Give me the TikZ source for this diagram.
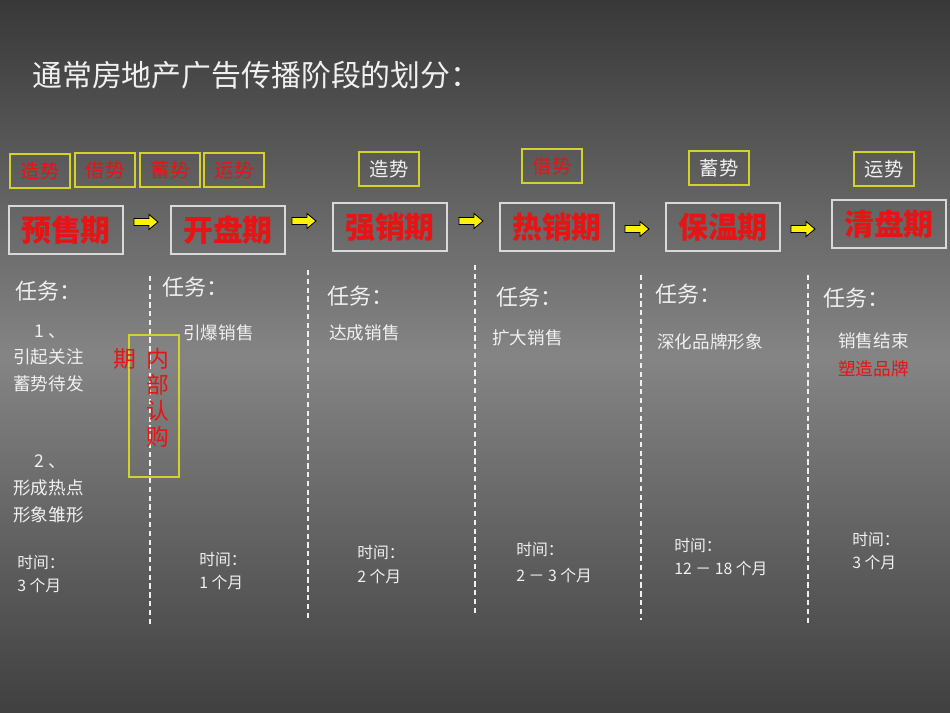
\documentclass[tikz,border=0pt]{standalone}
\usepackage{fontspec}
\setmainfont{Noto Sans CJK SC}
\definecolor{wt}{RGB}{240,240,240}
\definecolor{rd}{RGB}{230,20,20}
\definecolor{yb}{RGB}{210,210,40}
\begin{document}
\begin{tikzpicture}[x=0.02cm,y=-0.02cm,
 shi/.style={draw=yb,line width=0.7pt,minimum width=60*0.02cm,minimum height=34*0.02cm,inner sep=0pt,font=\fontsize{11}{12}\selectfont},
 big/.style={draw=wt!80!gray,line width=0.9pt,minimum width=114*0.02cm,minimum height=48*0.02cm,inner sep=0pt,text=rd,font=\fontsize{17}{18}\selectfont\bfseries},
 arr/.style={fill=yellow,draw=black,line width=0.5pt},
 dl/.style={draw=wt,dash pattern=on 3pt off 2pt,line width=0.7pt},
 task/.style={anchor=west,text=wt,font=\fontsize{12.5}{13}\selectfont,inner sep=0pt},
 body/.style={anchor=west,text=wt,font=\fontsize{10}{11}\selectfont,inner sep=0pt},
 vt/.style={text=rd,font=\fontsize{13}{14}\selectfont,inner sep=0pt},
 tm/.style={anchor=west,text=wt,font=\fontsize{9}{10}\selectfont,inner sep=0pt}]
\shade[top color=black!78,bottom color=black!75,middle color=black!48] (0,0) rectangle (950,713);
\useasboundingbox (0,0) rectangle (950,713);
\node[anchor=west,text=wt,font=\fontsize{17}{18}\selectfont,inner sep=0pt] (title) at (32,75) {通常房地产广告传播阶段的划分：};
% small boxes
\node[shi,text=rd] (s1) at (40,171) {造势};
\node[shi,text=rd] (s2) at (105,170) {借势};
\node[shi,text=rd] (s3) at (170,170) {蓄势};
\node[shi,text=rd] (s4) at (234,170) {运势};
\node[shi,text=wt] (s5) at (389,169) {造势};
\node[shi,text=rd] (s6) at (552,166) {借势};
\node[shi,text=wt] (s7) at (719,168) {蓄势};
\node[shi,text=wt] (s8) at (884,169) {运势};
% big boxes
\node[big] (b1) at (66,230) {预售期};
\node[big] (b2) at (228,230) {开盘期};
\node[big] (b3) at (390,227) {强销期};
\node[big] (b4) at (557,227) {热销期};
\node[big] (b5) at (723,227) {保温期};
\node[big] (b6) at (889,224) {清盘期};
% arrows
\foreach \n/\x/\y in {a1/134/222,a2/292/221,a3/459/221,a4/625/229,a5/791/229}{
 \draw[arr] (\x,\y-3.5) -- ++(15,0) -- ++(0,-4) -- ++(9,7.5) -- ++(-9,7.5) -- ++(0,-4) -- ++(-15,0) -- cycle;
 \coordinate (\n) at (\x,\y);
}
% dashed lines
\draw[dl] (150,276) -- (150,625);
\draw[dl] (308,270) -- (308,620);
\draw[dl] (475,265) -- (475,615);
\draw[dl] (641,275) -- (641,620);
\draw[dl] (808,275) -- (808,625);
% tasks
\node[task] (t1) at (15,291) {任务：};
\node[task] (t2) at (162,287) {任务：};
\node[task] (t3) at (327,296) {任务：};
\node[task] (t4) at (496,297) {任务：};
\node[task] (t5) at (655,294) {任务：};
\node[task] (t6) at (823,298) {任务：};
\node[body] (p1) at (34,332) {1 、};
\node[body] (p2) at (13,357) {引起关注};
\node[body] (p3) at (13,384) {蓄势待发};
\node[body] (p4) at (34,462) {2 、};
\node[body] (p5) at (13,488) {形成热点};
\node[body] (p6) at (13,515) {形象雏形};
\node[body] (q1) at (183,333) {引爆销售};
\node[body] (q2) at (329,333) {达成销售};
\node[body] (q3) at (492,338) {扩大销售};
\node[body] (q4) at (657,342) {深化品牌形象};
\node[body] (q5) at (838,341) {销售结束};
\node[body,text=rd] (q6) at (838,369) {塑造品牌};
% internal subscription
\draw[yb,line width=0.7pt] (129,335) rectangle (179,477);
\node[vt] (qi) at (125,359) {期};
\node[vt] (v1) at (158,359) {内};
\node[vt] (v2) at (158,385) {部};
\node[vt] (v3) at (158,411) {认};
\node[vt] (v4) at (158,437) {购};
% times
\node[tm] (m1) at (17,563) {时间：};
\node[tm] (n1) at (17,585) {3 个月};
\node[tm] (m2) at (199,560) {时间：};
\node[tm] (n2) at (199,582) {1 个月};
\node[tm] (m3) at (357,553) {时间：};
\node[tm] (n3) at (357,576) {2 个月};
\node[tm] (m4) at (516,550) {时间：};
\node[tm] (n4) at (516,575) {2 － 3 个月};
\node[tm] (m5) at (674,546) {时间：};
\node[tm] (n5) at (674,568) {12 － 18 个月};
\node[tm] (m6) at (852,540) {时间：};
\node[tm] (n6) at (852,562) {3 个月};
\end{tikzpicture}
\end{document}
